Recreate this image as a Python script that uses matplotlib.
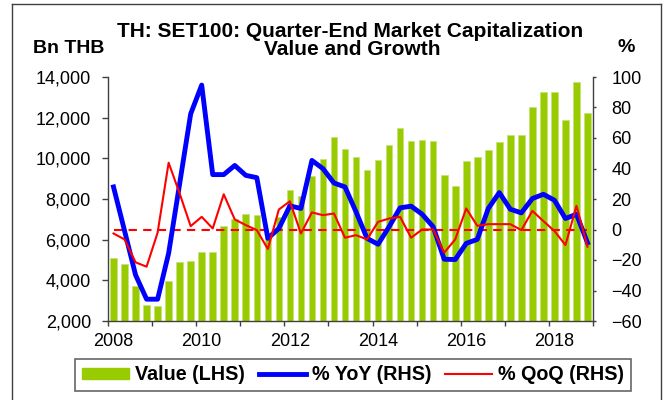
import matplotlib
matplotlib.use("Agg")
import matplotlib.pyplot as plt
from matplotlib.patches import Patch
from matplotlib.lines import Line2D
from matplotlib.ticker import FixedLocator, FuncFormatter

plt.rcParams['font.family'] = ['Liberation Sans', 'DejaVu Sans']

# ---- data ----
start_year = 2008
end_year = 2019
quarters = [f"{y}Q{q}" for y in range(2008, 2019) for q in range(1, 5)]

value_bn_thb = [5100, 4800, 3700, 2800, 2750, 3960, 4880, 4940, 5370, 5380,
                6650, 7010, 7250, 7210, 6100, 7110, 8420, 8170, 9120, 9970,
                11050, 10440, 10080, 9430, 9920, 10640, 11500, 10870, 10900, 10830,
                9200, 8660, 9890, 10080, 10430, 10780, 11160, 11160, 12520, 13270,
                13270, 11900, 13750, 12240]

yoy_pct = [27.9, -0.8, -29.8, -45.7, -45.7, -15.6, 30.0, 75.8, 94.7, 36.0,
           36.0, 42.0, 35.5, 34.0, -5.8, 0.7, 15.5, 13.8, 45.3, 39.9,
           30.5, 27.9, 11.6, -5.8, -9.7, 1.8, 14.2, 15.3, 10.0, 1.8,
           -19.5, -19.7, -9.1, -6.5, 13.8, 24.2, 13.3, 10.9, 20.3, 23.1,
           19.2, 7.2, 10.0, -8.7]

qoq_pct = [-2.6, -6.5, -21.5, -24.4, -2.1, 43.8, 23.6, 2.2, 8.3, 0.7,
           23.1, 6.6, 2.9, -0.4, -12.8, 13.1, 18.5, -2.6, 11.2, 9.4,
           10.5, -5.4, -3.7, -6.5, 5.0, 7.2, 8.3, -5.4, 0.0, 0.0,
           -15.2, -6.5, 13.8, 2.4, 3.5, 3.5, 3.5, -0.4, 12.2, 5.5,
           -1.0, -10.2, 15.5, -11.3]

label_years = [2008, 2010, 2012, 2014, 2016, 2018]
left_ticks = [2000, 4000, 6000, 8000, 10000, 12000, 14000]
right_ticks = [-60, -40, -20, 0, 20, 40, 60, 80, 100]

# x position: centre of each quarter
x = [int(q[:4]) + (int(q[-1]) - 0.5) / 4 for q in quarters]

W, H = 667, 400
fig = plt.figure(figsize=(W / 100, H / 100), dpi=100)
ax = fig.add_axes([108 / W, 1 - 321 / H, (593 - 108) / W, (321 - 77) / H])
ax2 = ax.twinx()

green = '#99CC00'
spine_c = '#404040'

ax.bar(x, value_bn_thb, width=0.15, color=green, edgecolor='#C8E27A', linewidth=0.6, zorder=2)
ax.set_ylim(2000, 14000)
ax.set_xlim(start_year, end_year)
ax.yaxis.set_major_locator(FixedLocator(left_ticks))
ax.yaxis.set_major_formatter(FuncFormatter(lambda v, p: f"{int(v):,}"))
ax.tick_params(axis='y', length=4.3, width=1, color=spine_c, pad=8, labelsize=13)

ax.set_xticks(list(range(start_year, end_year + 1)))
ax.set_xticklabels([])
ax.set_xticks([yr + 0.125 for yr in label_years], minor=True)
ax.set_xticklabels([str(yr) for yr in label_years], minor=True)
ax.tick_params(axis='x', which='major', length=3.5, width=1, color=spine_c)
ax.tick_params(axis='x', which='minor', length=0, pad=9, labelsize=13)

for s in ['top', 'right']:
    ax.spines[s].set_visible(False)
for s in ['left', 'bottom']:
    ax.spines[s].set_color(spine_c)
    ax.spines[s].set_linewidth(1)

ax2.plot(x, yoy_pct, color='#0000FF', lw=3.5, zorder=3)
ax2.plot(x, qoq_pct, color='#FF0000', lw=1.5, zorder=4)
ax2.hlines(0, x[0], x[-1], colors='#FF0000', linestyles=(0, (4, 3)), lw=1.5, zorder=2)
ax2.set_ylim(-60, 100)
ax2.yaxis.set_major_locator(FixedLocator(right_ticks))
ax2.tick_params(axis='y', length=2.2, width=1, color=spine_c, pad=11, labelsize=13)
for s in ['top', 'left', 'bottom']:
    ax2.spines[s].set_visible(False)
ax2.spines['right'].set_color(spine_c)
ax2.spines['right'].set_linewidth(1)

# titles
fig.text(350 / W, 1 - 36.7 / H, "TH: SET100: Quarter-End Market Capitalization",
         ha='center', va='baseline', fontsize=15, fontweight='bold')
fig.text(352 / W, 1 - 55 / H, "Value and Growth",
         ha='center', va='baseline', fontsize=15, fontweight='bold')
fig.text(33 / W, 1 - 53 / H, "Bn THB", ha='left', va='baseline', fontsize=14, fontweight='bold')
fig.text(618 / W, 1 - 52 / H, "%", ha='left', va='baseline', fontsize=14, fontweight='bold')

# legend
handles = [Patch(facecolor=green, edgecolor=green),
           Line2D([], [], color='#0000FF', lw=3.5),
           Line2D([], [], color='#FF0000', lw=1.5)]
labels = ["Value (LHS)", "% YoY (RHS)", "% QoQ (RHS)"]
leg = fig.legend(handles, labels, loc='center', bbox_to_anchor=(353 / W, 1 - 375 / H),
                 ncol=3, frameon=True, fancybox=False, handlelength=2.4, handleheight=0.5,
                 handletextpad=0.3, columnspacing=0.7, borderpad=0.35,
                 prop={'weight': 'bold', 'size': 14.2})
leg.get_frame().set_edgecolor(spine_c)
leg.get_frame().set_linewidth(1.2)

# outer frame
fx0, fx1, fy1 = 11.7 / W, 661 / W, 1 - 4 / H
for xs, ys in [([fx0, fx0], [0, fy1]), ([fx0, fx1], [fy1, fy1]), ([fx1, fx1], [fy1, 0])]:
    fig.add_artist(Line2D(xs, ys, transform=fig.transFigure, color=spine_c, lw=1))

fig.savefig("out.png", dpi=100)
